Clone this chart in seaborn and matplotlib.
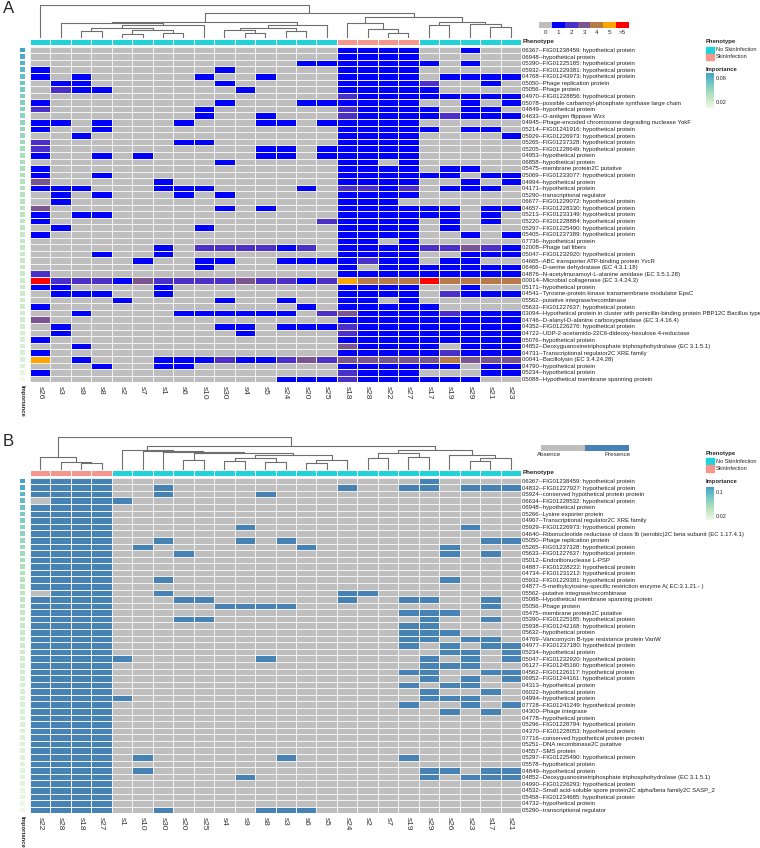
import numpy as np
import pandas as pd
import matplotlib
matplotlib.use("Agg")
import matplotlib.pyplot as plt
import seaborn as sns
from matplotlib.colors import ListedColormap, LinearSegmentedColormap

sns.set_theme(style="white")
plt.rcParams['font.family'] = ['Liberation Sans', 'DejaVu Sans']

W, H = 760, 848

# ---------------- data: panel A (copy number) ----------------
a_samples = ["s26", "s3", "s9", "s8", "s2", "s7", "s1", "s6", "s10", "s30", "s4", "s5",
             "s24", "s20", "s25", "s18", "s28", "s22", "s27", "s17", "s19", "s29", "s21", "s23"]
skin_samples = ["s18", "s28", "s22", "s27"]

a_genes = [
    "06367--FIG01238459: hypothetical protein",
    "06948--hypothetical protein",
    "05390--FIG01225185: hypothetical protein",
    "05932--FIG01229381: hypothetical protein",
    "04768--FIG01243973: hypothetical protein",
    "05050--Phage replication protein",
    "05056--Phage protein",
    "04970--FIG01228856: hypothetical protein",
    "05078--possible carbamoyl-phosphate synthase large chain",
    "04849--hypothetical protein",
    "04633--O-antigen flippase Wzx",
    "04945--Phage-encoded chromosome degrading nuclease YokF",
    "05214--FIG01241916: hypothetical protein",
    "05929--FIG01226973: hypothetical protein",
    "05265--FIG01237328: hypothetical protein",
    "05205--FIG01228649: hypothetical protein",
    "04953--hypothetical protein",
    "06858--hypothetical protein",
    "05475--membrane protein2C putative",
    "05069--FIG01233077: hypothetical protein",
    "04994--hypothetical protein",
    "04171--hypothetical protein",
    "05290--transcriptional regulator",
    "06677--FIG01229072: hypothetical protein",
    "04657--FIG01228330: hypothetical protein",
    "05213--FIG01233149: hypothetical protein",
    "05220--FIG01228884: hypothetical protein",
    "05297--FIG01225490: hypothetical protein",
    "05405--FIG01237389: hypothetical protein",
    "07736--hypothetical protein",
    "02008--Phage tail fibers",
    "05047--FIG01232920: hypothetical protein",
    "04665--ABC transporter ATP-binding protein YvcR",
    "06466--D-serine dehydratase (EC 4.3.1.18)",
    "04876--N-acetylmuramoyl-L-alanine amidase (EC 3.5.1.28)",
    "00014--Microbial collagenase (EC 3.4.24.3)",
    "05171--hypothetical protein",
    "04541--Tyrosine-protein kinase transmembrane modulator EpsC",
    "05562--putative integrase/recombinase",
    "05633--FIG01227637: hypothetical protein",
    "03094--Hypothetical protein in cluster with penicillin-binding protein PBP12C Bacillus type",
    "04746--D-alanyl-D-alanine carboxypeptidase (EC 3.4.16.4)",
    "04352--FIG01226276: hypothetical protein",
    "04722--UDP-2-acetamido-22C6-dideoxy-hexulose 4-reductase",
    "05076--hypothetical protein",
    "04852--Deoxyguanosinetriphosphate triphosphohydrolase (EC 3.1.5.1)",
    "04731--Transcriptional regulator2C XRE family",
    "00041--Bacillolysin (EC 3.4.24.28)",
    "04790--hypothetical protein",
    "05234--hypothetical protein",
    "05088--Hypothetical membrane spanning protein",
]

# copy number per gene, one digit per sample (6 means >5)
a_counts = [
    "000000000000000111100100",
    "000000000000000111100000",
    "000000000000011111110100",
    "100000000100000111100000",
    "101000001001000111101111",
    "011000000100000111120010",
    "021100000010000111110000",
    "000000000000000211111111",
    "100000000100011111100101",
    "200000001000000211110110",
    "000000001001000211112111",
    "110100010001101111100000",
    "100100000000000111110110",
    "001000000000000111100001",
    "200000011000000111100000",
    "200000000001101111100000",
    "100101000001101111100000",
    "000000000100000110100000",
    "100000000000000111101100",
    "100100000000000111111011",
    "300000100000000111100101",
    "111000111000010221201110",
    "010100010100000111100000",
    "010000000000000111000000",
    "300000000101000111111011",
    "101100000000000111111010",
    "100000000000002111101010",
    "010000001000000111101000",
    "100000000000000111100101",
    "000000000000000110100000",
    "000000102222120111122321",
    "000100100000000111100111",
    "000001001100111121101100",
    "000000001000000101111111",
    "200000000000000111111111",
    "622213222232212544464444",
    "110000100000000111100100",
    "011100100000000111102111",
    "000010000100100110100000",
    "100000000000010111110000",
    "001000011111102311112111",
    "300000000000000111111111",
    "010000000110111211111111",
    "010000000010000211111111",
    "100000000000000111111111",
    "001000000000000311110111",
    "100000000000000111112111",
    "501000111211232333334333",
    "000100110000000111111011",
    "100000000000000211100011",
    "000000000000111211111100",
]

a_importance = [0.092, 0.088, 0.082, 0.078, 0.074, 0.070, 0.066, 0.063, 0.060, 0.058,
                0.056, 0.054, 0.052, 0.050, 0.048, 0.046, 0.044, 0.043, 0.042, 0.041,
                0.040, 0.039, 0.038, 0.037, 0.036, 0.035, 0.034, 0.033, 0.032, 0.031,
                0.030, 0.030, 0.029, 0.029, 0.028, 0.028, 0.027, 0.027, 0.026, 0.026,
                0.025, 0.025, 0.024, 0.024, 0.023, 0.022, 0.021, 0.020, 0.018, 0.014, 0.008]

# merges (child, child, height); ids >= 24 are earlier merges
a_tree = [
    (4, 5, 0.12), (6, 7, 0.16), (24, 25, 0.26), (2, 3, 0.22), (27, 26, 0.32),
    (28, 8, 0.40), (1, 29, 0.47), (10, 11, 0.14), (9, 31, 0.24), (12, 13, 0.20),
    (32, 33, 0.30), (34, 14, 0.40), (30, 35, 0.50), (17, 18, 0.15), (16, 37, 0.28),
    (15, 38, 0.46), (19, 20, 0.40), (22, 23, 0.33), (21, 41, 0.42), (40, 42, 0.49),
    (39, 43, 0.65), (36, 44, 0.77), (0, 45, 1.00),
]

# ---------------- data: panel B (presence / absence) ----------------
b_samples = ["s22", "s28", "s18", "s27", "s1", "s10", "s30", "s20", "s25", "s4", "s9", "s8",
             "s3", "s6", "s5", "s24", "s2", "s7", "s19", "s29", "s26", "s23", "s17", "s21"]

b_genes = [
    "06367--FIG01238459: hypothetical protein",
    "04832--FIG01227927: hypothetical protein",
    "05924--conserved hypothetical protein protein",
    "06634--FIG01228532: hypothetical protein",
    "06948--hypothetical protein",
    "05266--Lysine exporter protein",
    "04967--Transcriptional regulator2C XRE family",
    "05929--FIG01226973: hypothetical protein",
    "04640--Ribonucleotide reductase of class Ib (aerobic)2C beta subunit (EC 1.17.4.1)",
    "05050--Phage replication protein",
    "05265--FIG01237328: hypothetical protein",
    "05633--FIG01227637: hypothetical protein",
    "05012--Endoribonuclease L-PSP",
    "04887--FIG01228222: hypothetical protein",
    "04734--FIG01231212: hypothetical protein",
    "05932--FIG01229381: hypothetical protein",
    "04877--5-methylcytosine-specific restriction enzyme A( EC:3.1.21.- )",
    "05562--putative integrase/recombinase",
    "05088--Hypothetical membrane spanning protein",
    "05056--Phage protein",
    "05475--membrane protein2C putative",
    "05390--FIG01225185: hypothetical protein",
    "05938--FIG01242168: hypothetical protein",
    "05632--hypothetical protein",
    "04769--Vancomycin B-type resistance protein VanW",
    "04977--FIG01237180: hypothetical protein",
    "05234--hypothetical protein",
    "05047--FIG01232920: hypothetical protein",
    "06127--FIG01245160: hypothetical protein",
    "04562--FIG01226117: hypothetical protein",
    "06952--FIG01244161: hypothetical protein",
    "04313--hypothetical protein",
    "06022--hypothetical protein",
    "04994--hypothetical protein",
    "07728--FIG01241249: hypothetical protein",
    "04300--Phage integrase",
    "04778--hypothetical protein",
    "05296--FIG01228794: hypothetical protein",
    "04370--FIG01228053: hypothetical protein",
    "07716--conserved hypothetical protein protein",
    "05251--DNA recombinase2C putative",
    "04557--SMS protein",
    "05297--FIG01225490: hypothetical protein",
    "05578--hypothetical protein",
    "04849--hypothetical protein",
    "04852--Deoxyguanosinetriphosphate triphosphohydrolase (EC 3.1.5.1)",
    "04990--FIG01226293: hypothetical protein",
    "04532--Small acid-soluble spore protein2C alpha/beta family2C SASP_2",
    "05458--FIG01234685: hypothetical protein",
    "04732--hypothetical protein",
    "05290--transcriptional regulator",
]

# 1 = presence, 0 = absence, one digit per sample
b_presence = [
    "111100000000000000010000",
    "111100100000000100110111",
    "111100100001000000000000",
    "011110000000000000000000",
    "111100000000000000000000",
    "111100000000000000000000",
    "111100000000000000000000",
    "111100000010000000000100",
    "111100000000000000000000",
    "111100100010100000000011",
    "111101000000010000001000",
    "111100010000000000001010",
    "111100000000000000000000",
    "111100000000000000000000",
    "111100000000000000000000",
    "111100100000000000001000",
    "111100000000000000000000",
    "011100100000000110000000",
    "111100011000000100110010",
    "111100000111100000000010",
    "111100000000000000111000",
    "111100011000000000010010",
    "111100000000000000110000",
    "111100000000000000111000",
    "111100000000000000110110",
    "111100000000000000101011",
    "111100000000000000001101",
    "111110000001000000010101",
    "111100000000000000011100",
    "111100000000000000110011",
    "111100000000000000010101",
    "111100000000000000101100",
    "111100000000000000010010",
    "111110000000000000011100",
    "111100000000000000100101",
    "111100000000000000001010",
    "111100000000000000000000",
    "111100000000000000000000",
    "111100000000000000000000",
    "111100000000000000000000",
    "111100000000000000000000",
    "111100000000000000000000",
    "111101000000100000100000",
    "111100000000000000000000",
    "111101000000000000011011",
    "111100000010000000010111",
    "111100000000000000000000",
    "111100000000000000000000",
    "111100000000000000000000",
    "111100000000000000000000",
    "111100100001110000000000",
]

b_importance = [0.116, 0.108, 0.100, 0.094, 0.088, 0.083, 0.078, 0.074, 0.070, 0.066,
                0.062, 0.059, 0.056, 0.053, 0.050, 0.048, 0.046, 0.044, 0.042, 0.040,
                0.039, 0.038, 0.037, 0.036, 0.035, 0.034, 0.033, 0.032, 0.031, 0.030,
                0.029, 0.028, 0.028, 0.027, 0.027, 0.026, 0.026, 0.025, 0.025, 0.024,
                0.024, 0.023, 0.023, 0.022, 0.021, 0.020, 0.019, 0.018, 0.016, 0.013, 0.0104]

b_tree = [
    (2, 3, 0.21), (1, 24, 0.23), (0, 25, 0.38),
    (9, 10, 0.25), (11, 12, 0.22), (27, 28, 0.35), (13, 14, 0.20), (30, 15, 0.30),
    (29, 31, 0.45), (7, 8, 0.30), (33, 32, 0.50), (6, 34, 0.55), (5, 35, 0.58),
    (4, 36, 0.62), (16, 17, 0.35), (18, 19, 0.40), (38, 39, 0.50), (21, 22, 0.25),
    (41, 23, 0.35), (20, 42, 0.45), (40, 43, 0.60), (37, 44, 0.73), (26, 45, 1.00),
]

# ---------------- styling ----------------
count_colors = ["#bebebe", "#0000ff", "#4a2fc8", "#7b5590", "#b97a4a", "#ffa500", "#ff0000"]
count_labels = ["0", "1", "2", "3", "4", "5", ">5"]
pa_colors = ["#bebebe", "#4682b4"]
pheno_colors = {"No SkinInfection": "#1fd3d9", "SkinInfection": "#f6968c"}
imp_cmap = LinearSegmentedColormap.from_list("imp", ["#f0f9e8", "#bae4bc", "#7bccc4", "#43a2ca"])

fig = plt.figure(figsize=(W / 100, H / 100), dpi=100)


def box(x0, y0, x1, y1):
    return [x0 / W, 1 - y1 / H, (x1 - x0) / W, (y1 - y0) / H]


def draw_tree(ax, tree, n):
    xs = {i: i + 0.5 for i in range(n)}
    hs = {i: 0.0 for i in range(n)}
    for k, (a, b, h) in enumerate(tree):
        for c in (a, b):
            ax.plot([xs[c], xs[c]], [hs[c], h], color="#6e6e6e", lw=0.8)
        ax.plot([xs[a], xs[b]], [h, h], color="#6e6e6e", lw=0.8)
        xs[n + k] = (xs[a] + xs[b]) / 2
        hs[n + k] = h
    ax.set_xlim(0, n)
    ax.set_ylim(0, 1.01)
    ax.axis("off")


def draw_panel(letter, lay, samples, genes, rows, imp, tree, colors, key_labels, imp_ticks):
    n = len(samples)
    mat = pd.DataFrame([[int(ch) for ch in r] for r in rows], index=genes, columns=samples)
    pheno = ["SkinInfection" if s in skin_samples else "No SkinInfection" for s in samples]
    y_heat0 = lay["heat"]
    y_heat1 = y_heat0 + 6.58 * len(genes)

    fig.text(3 / W, 1 - lay["letter"] / H, letter, fontsize=12, va="top", ha="left")

    ax_d = fig.add_axes(box(30, lay["dend"], 521, lay["pheno"] - 0.5))
    draw_tree(ax_d, tree, n)

    ax_p = fig.add_axes(box(30, lay["pheno"], 521, lay["pheno"] + 6))
    pheno_df = pd.DataFrame([[0 if p == "No SkinInfection" else 1 for p in pheno]])
    sns.heatmap(pheno_df, ax=ax_p, cmap=ListedColormap([pheno_colors["No SkinInfection"],
                                                        pheno_colors["SkinInfection"]]),
                vmin=-0.5, vmax=1.5, cbar=False, linewidths=0.4, linecolor="white",
                xticklabels=False, yticklabels=False)
    fig.text(523 / W, 1 - (lay["pheno"] + 3) / H, "Phenotype", fontsize=4.5,
             fontweight="bold", va="center", ha="left")

    ax_h = fig.add_axes(box(30, y_heat0, 521, y_heat1))
    sns.heatmap(mat, ax=ax_h, cmap=ListedColormap(colors), vmin=-0.5, vmax=len(colors) - 0.5,
                cbar=False, linewidths=0.4, linecolor="#f2f2f2",
                xticklabels=samples, yticklabels=genes)
    ax_h.yaxis.tick_right()
    ax_h.tick_params(length=0, pad=1)
    ax_h.set_yticklabels(genes, rotation=0, fontsize=4.3, color="#222222")
    ax_h.set_xticklabels(samples, rotation=270, fontsize=6, color="#333333")
    ax_h.tick_params(axis="x", pad=3)

    ax_i = fig.add_axes(box(19, y_heat0, 25.5, y_heat1))
    sns.heatmap(pd.DataFrame({"Importance": imp}), ax=ax_i, cmap=imp_cmap, cbar=False,
                linewidths=0.3, linecolor="white", xticklabels=False, yticklabels=False)
    fig.text(22 / W, 1 - (y_heat1 + 3) / H, "Importance", fontsize=4.2, fontweight="bold",
             rotation=270, va="top", ha="center")

    # colour key
    kx0, kx1, ky = lay["key"]
    ax_k = fig.add_axes(box(kx0, ky, kx1, ky + 6))
    ax_k.imshow(np.arange(len(colors))[None, :], cmap=ListedColormap(colors), aspect="auto",
                vmin=-0.5, vmax=len(colors) - 0.5)
    ax_k.set_xticks([])
    ax_k.set_yticks([])
    for s in ax_k.spines.values():
        s.set_visible(False)
    for x, lab in key_labels:
        fig.text(x / W, 1 - (ky + 10) / H, lab, fontsize=4.5, ha="center", va="center")

    # legends
    ly = lay["legend"]
    fig.text(706 / W, 1 - ly / H, "Phenotype", fontsize=4.2, fontweight="bold",
             va="center", ha="left")
    for j, (name, col) in enumerate(pheno_colors.items()):
        y0 = ly + 5 + 7 * j
        fig.patches.append(plt.Rectangle((706 / W, 1 - (y0 + 6.5) / H), 8 / W, 6.5 / H,
                                         transform=fig.transFigure, color=col))
        fig.text(715.5 / W, 1 - (y0 + 3.3) / H, name, fontsize=4.0, va="center", ha="left")
    fig.text(706 / W, 1 - lay["imp_title"] / H, "Importance", fontsize=4.2, fontweight="bold",
             va="center", ha="left")
    g0, g1 = lay["grad"]
    ax_g = fig.add_axes(box(706, g0, 714, g1))
    ax_g.imshow(np.linspace(max(imp), min(imp), 100)[:, None], cmap=imp_cmap, aspect="auto")
    ax_g.axis("off")
    vmin, vmax = min(imp), max(imp)
    for v in imp_ticks:
        yy = g0 + (vmax - v) / (vmax - vmin) * (g1 - g0)
        fig.text(715.5 / W, 1 - yy / H, f"{v:g}", fontsize=4.0, va="center", ha="left")


layout_a = {"letter": 1, "dend": 5, "pheno": 38.5, "heat": 46.7, "key": (539, 629, 22),
            "legend": 41.5, "imp_title": 69.5, "grad": (73, 108)}
layout_b = {"letter": 434, "dend": 437, "pheno": 470, "heat": 477.7, "key": (541, 629, 445),
            "legend": 453, "imp_title": 482, "grad": (487, 520)}

draw_panel("A", layout_a, a_samples, a_genes, a_counts, a_importance, a_tree, count_colors,
           [(545.5 + 12.86 * k, lab) for k, lab in enumerate(count_labels)], [0.08, 0.02])
draw_panel("B", layout_b, b_samples, b_genes, b_presence, b_importance, b_tree, pa_colors,
           [(549, "Absence"), (618, "Presence")], [0.1, 0.02])

fig.savefig("out.png", dpi=100)
